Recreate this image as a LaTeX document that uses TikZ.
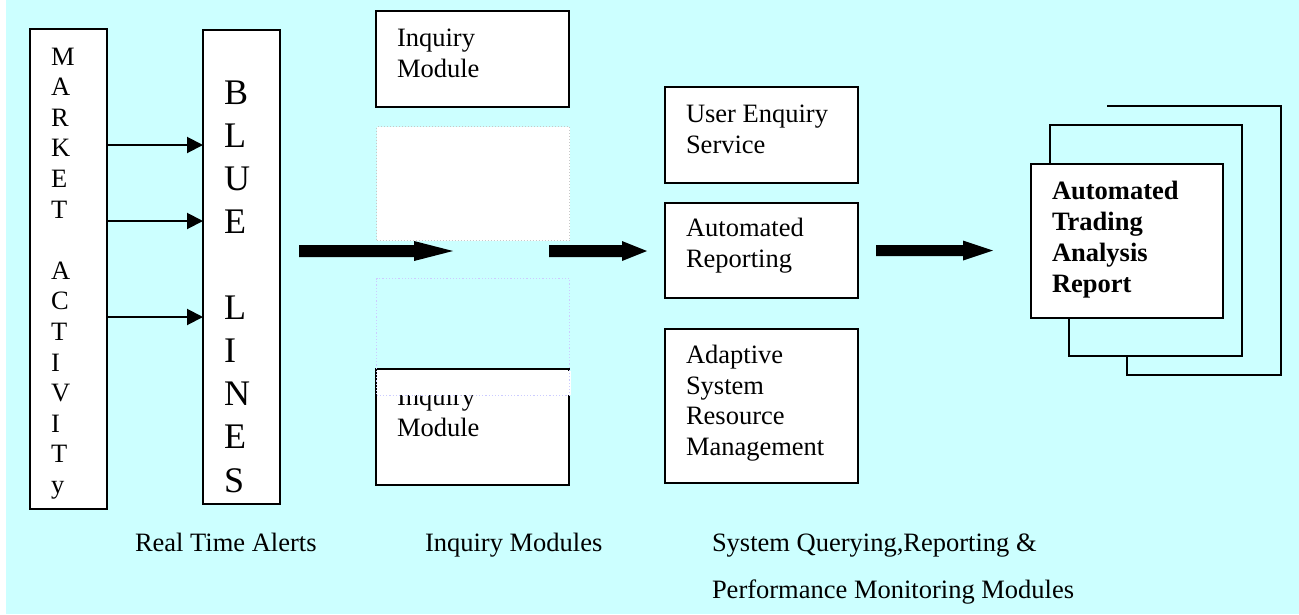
\documentclass[tikz,border=0pt]{standalone}
\usepackage{fontspec}
\setmainfont{Liberation Serif}
\usetikzlibrary{arrows.meta}

\definecolor{bgcyan}{RGB}{204,255,255}
\definecolor{dotgray}{RGB}{200,200,200}
\definecolor{dotlav}{RGB}{204,204,255}

% multi-line texts are placed by the baseline of their last line
\tikzset{
  box/.style={draw=black, line width=1.5pt, fill=white, anchor=north west,
              inner sep=0pt, outer sep=0pt},
  frame/.style={draw=black, line width=1.5pt},
  txt/.style={anchor=base west, inner sep=0pt, outer sep=0pt, align=left,
              font=\fontsize{26.5pt}{30.6pt}\selectfont},
  boldtxt/.style={txt, font=\fontsize{26.5pt}{30.7pt}\selectfont\bfseries},
  bigtxt/.style={anchor=base west, inner sep=0pt, outer sep=0pt, align=left,
                 font=\fontsize{36pt}{43.1pt}\selectfont},
  feed/.style={line width=2pt, -{Triangle[length=16pt,width=16pt]}},
  fatarrow/.style={fill=black},
  ghostwhite/.style={draw=dotgray, line width=1pt, dotted, fill=white},
  ghostcyan/.style={draw=dotlav, line width=1.2pt, dotted},
}

\begin{document}
\begin{tikzpicture}[x=1pt, y=-1pt]
  \useasboundingbox (0,0) rectangle (1299,614);
  \fill[white] (0,0) rectangle (1299,614);
  \fill[bgcyan] (6,0) rectangle (1299,614);

  % market activity and alert lines
  \node[box, minimum width=77pt, minimum height=480pt] (market) at (30,29) {};
  \node[box, minimum width=77pt, minimum height=474pt] (blue) at (203,30) {};
  \node[txt] (markettxt) at (51,493.5)
    {M\\A\\R\\K\\E\\T\\\mbox{}\\A\\C\\T\\I\\V\\I\\T\\y};
  \node[bigtxt] (bluetxt) at (224,492)
    {B\\L\\U\\E\\\mbox{}\\L\\I\\N\\E\\S};

  \coordinate (f1) at (0,145);
  \coordinate (f2) at (0,221);
  \coordinate (f3) at (0,317);
  \draw[feed] (market.east |- f1) -- (blue.west |- f1);
  \draw[feed] (market.east |- f2) -- (blue.west |- f2);
  \draw[feed] (market.east |- f3) -- (blue.west |- f3);

  % inquiry modules
  \node[box, minimum width=193pt, minimum height=96pt] (inq1) at (376,11) {};
  \node[txt] (inq1txt) at (397,77) {Inquiry\\Module};
  \node[ghostwhite, anchor=north west, inner sep=0pt, minimum width=193pt,
        minimum height=114pt] (slot1) at (376,126) {};
  \node[box, minimum width=193pt, minimum height=116pt] (inq2) at (376,369) {};
  \node[txt] (inq2txt) at (397,436) {Inquiry\\Module};
  \fill[white] (377,370.5) rectangle (570.5,395);
  \node[ghostcyan, anchor=north west, inner sep=0pt, minimum width=193pt,
        minimum height=117pt] (slot2) at (376,278) {};

  % querying, reporting and monitoring modules
  \node[box, minimum width=193pt, minimum height=96pt] (user) at (665,87) {};
  \node[txt] (usertxt) at (686,153) {User Enquiry\\Service};
  \node[box, minimum width=193pt, minimum height=95pt] (auto) at (665,203) {};
  \node[txt] (autotxt) at (686,267) {Automated\\Reporting};
  \node[box, minimum width=193pt, minimum height=154pt] (adapt) at (665,329) {};
  \node[txt] (adapttxt) at (686,455.5) {Adaptive\\System\\Resource\\Management};

  % stacked report pages
  \draw[frame] (1107,106) -- (1281,106) -- (1281,375) -- (1127,375) -- (1127,356);
  \draw[frame] (1050,164) -- (1050,125) -- (1242,125) -- (1242,356) -- (1069,356) -- (1069,318);
  \node[box, minimum width=192pt, minimum height=154pt] (report) at (1031,164) {};
  \node[boldtxt] (reporttxt) at (1052,292) {Automated\\Trading\\Analysis\\Report};

  % flow arrows between stages
  \fill[fatarrow] (299,245) -- (414,245) -- (414,241) -- (453,251)
                  -- (414,261) -- (414,257) -- (299,257) -- cycle;
  \fill[fatarrow] (549,245) -- (622,245) -- (622,241) -- (647,251)
                  -- (622,261) -- (622,257) -- (549,257) -- cycle;
  \fill[fatarrow] (876,245) -- (963,245) -- (963,240.5) -- (993,250.5)
                  -- (963,260.5) -- (963,256) -- (876,256) -- cycle;

  % stage captions
  \node[txt] (cap1) at (135,551) {Real Time Alerts};
  \node[txt] (cap2) at (425,551) {Inquiry Modules};
  \node[txt] (cap3) at (712,551) {System Querying,Reporting \&};
  \node[txt] (cap4) at (712,598) {Performance Monitoring Modules};
\end{tikzpicture}
\end{document}
